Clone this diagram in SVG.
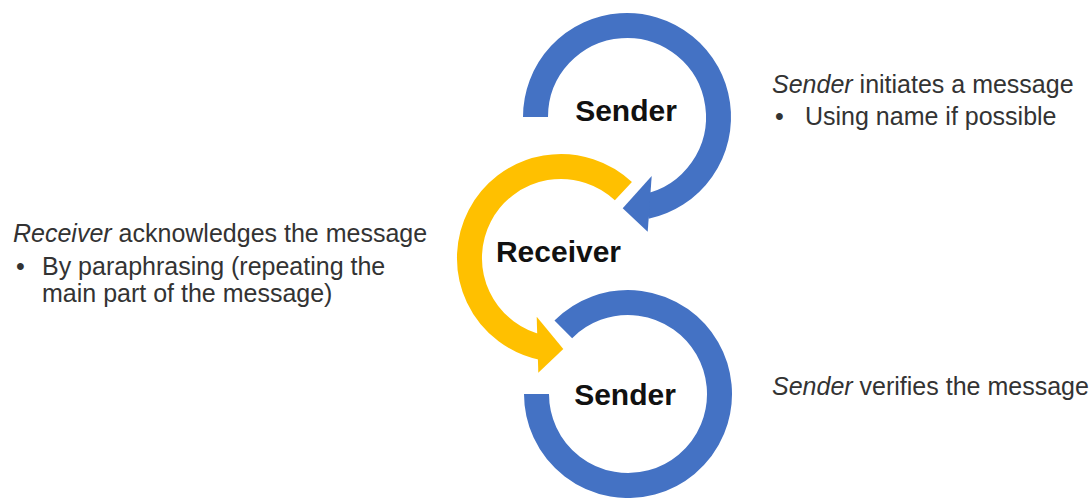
<svg xmlns="http://www.w3.org/2000/svg" width="1092" height="498" viewBox="0 0 1092 498">
  <style>
    .ring { fill: none; stroke-width: 25; stroke-linecap: butt; }
    .blue { stroke: #4472C4; }
    .gold { stroke: #FFC000; }
    .head-blue { fill: #4472C4; }
    .head-gold { fill: #FFC000; }
    .label { font-family: "Liberation Sans", Arial, sans-serif; font-weight: bold; font-size: 30px; fill: #111; text-anchor: middle; }
    .note { font-family: "Liberation Sans", Arial, sans-serif; font-size: 25px; fill: #333; }
  </style>
  <rect width="1092" height="498" fill="#fff"/>

  <!-- circular arrows between the roles -->
  <g id="connectors">
    <!-- top sender loop: starts left, runs clockwise, points into receiver -->
    <path class="ring blue" d="M 535.5 117 A 91.5 91.5 0 1 1 646 206.5"/>
    <polygon class="head-blue" points="651.7,176 622.7,208.3 647.7,231.7"/>
    <!-- receiver loop: runs counter-clockwise, points into bottom sender -->
    <path class="ring gold" d="M 623.4 191.1 A 91.5 91.5 0 1 0 542 347.5"/>
    <polygon class="head-gold" points="536.7,316.7 563.3,349 538.3,372.7"/>
    <!-- bottom sender loop: open ring, no head -->
    <path class="ring blue" d="M 563.3 329.3 A 91.5 91.5 0 1 1 536.5 394"/>
  </g>

  <g id="node-sender-top">
    <text class="label" x="626" y="121">Sender</text>
  </g>
  <g id="node-receiver">
    <text class="label" x="558.5" y="262">Receiver</text>
  </g>
  <g id="node-sender-bottom">
    <text class="label" x="625" y="405">Sender</text>
  </g>

  <g id="note-initiate">
    <text class="note" x="772" y="93"><tspan font-style="italic">Sender</tspan> initiates a message</text>
    <text class="note" x="775" y="125">•</text>
    <text class="note" x="805" y="125">Using name if possible</text>
  </g>
  <g id="note-acknowledge">
    <text class="note" x="13" y="242"><tspan font-style="italic">Receiver</tspan> acknowledges the message</text>
    <text class="note" x="16" y="275">•</text>
    <text class="note" x="42" y="275">By paraphrasing (repeating the</text>
    <text class="note" x="42" y="302">main part of the message)</text>
  </g>
  <g id="note-verify">
    <text class="note" x="772" y="395"><tspan font-style="italic">Sender</tspan> verifies the message</text>
  </g>
</svg>
